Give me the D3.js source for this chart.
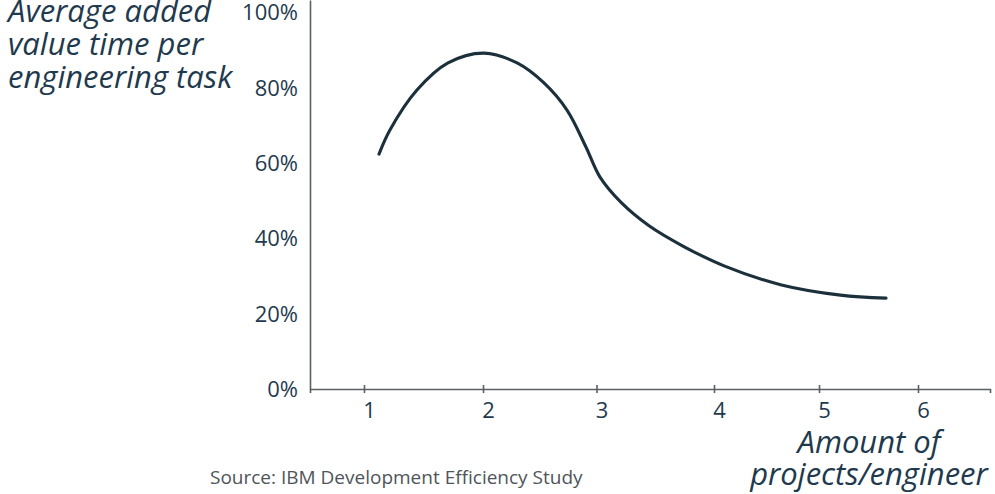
<!DOCTYPE html>
<html>
<head>
<meta charset="utf-8">
<script src="https://cdn.jsdelivr.net/npm/d3@7"></script>
<style>
  html, body { margin: 0; padding: 0; background: #ffffff; }
  svg { display: block; }
  text { font-family: "Open Sans", "Noto Sans", sans-serif; }
</style>
</head>
<body>
<svg id="chart" width="995" height="494"></svg>
<script>
// ---- data ----
const projectsPerEngineer = [1.126, 1.218, 1.445, 1.706, 2.009, 2.30, 2.537, 2.74, 2.907, 3.03, 3.209, 3.447, 3.731, 4.102, 4.643, 5.217, 5.677];
const addedValuePct      = [62.3,  68.7,  79.3,  86.5,  89.1,  86.5, 81.2,  74.0, 64.2,  56.2, 49.5,  43.3,  38.0,  32.6,  27.6,  24.9,  24.1];
const xTickValues = [1, 2, 3, 4, 5, 6];
const yTickValues = [0, 20, 40, 60, 80, 100];
const yTitleLines = ["Average added", "value time per", "engineering task"];
const xTitleLines = ["Amount of", "projects/engineer"];
const sourceText = "Source: IBM Development Efficiency Study";
const xDomain = [0.546, 1, 2, 3, 4, 5, 6, 6.727];   // hand-drawn axis: uneven tick spacing
const yDomain = [0, 103.2];

// ---- chart ----
const svg = d3.select("#chart");
const textColor = "#1f3a4e";
const axisColor = "#5a5f63";
const lineColor = "#1c303c";

const x = d3.scaleLinear().domain(xDomain).range([310, 364, 483, 596.5, 714, 819, 918, 990]);
const y = d3.scaleLinear().domain(yDomain).range([389, 0]);

// x axis
const gx = svg.append("g").attr("transform", `translate(0,${y(0)})`)
  .call(d3.axisBottom(x).tickValues(xTickValues).tickSizeOuter(0).tickSize(4).tickFormat(d3.format("d")));
gx.select(".domain").attr("stroke", axisColor).attr("stroke-width", 1.6);
gx.selectAll(".tick line").attr("stroke", axisColor).attr("stroke-width", 1.6).attr("y1", -4).attr("y2", 4);
gx.selectAll(".tick text").attr("fill", textColor).attr("font-size", 22)
  .attr("font-family", "'Open Sans', sans-serif").attr("dy", 0).attr("y", 29).attr("dx", 5);

// y axis
const gy = svg.append("g").attr("transform", `translate(${x(xDomain[0])},0)`)
  .call(d3.axisLeft(y).tickValues(yTickValues).tickSize(0).tickSizeOuter(0).tickPadding(12).tickFormat(d => d + "%"));
gy.select(".domain").attr("stroke", axisColor).attr("stroke-width", 1.6);
gy.selectAll(".tick text").attr("fill", textColor).attr("font-size", 22)
  .attr("font-family", "'Open Sans', sans-serif").attr("dy", "0.35em");

// curve
const pts = projectsPerEngineer.map((d, i) => [d, addedValuePct[i]]);
const line = d3.line().x(d => x(d[0])).y(d => y(d[1])).curve(d3.curveCatmullRom.alpha(0.5));
svg.append("path").datum(pts).attr("d", line)
  .attr("fill", "none").attr("stroke", lineColor).attr("stroke-width", 3.1).attr("stroke-linecap", "round");

// y title
svg.append("text").attr("fill", textColor).attr("font-size", 31).attr("font-style", "italic")
  .selectAll("tspan").data(yTitleLines).join("tspan")
  .attr("x", 8).attr("y", (d, i) => 22 + i * 33).text(d => d);

// x title
svg.append("text").attr("fill", textColor).attr("font-size", 31).attr("font-style", "italic")
  .attr("text-anchor", "middle")
  .selectAll("tspan").data(xTitleLines).join("tspan")
  .attr("x", 869).attr("y", (d, i) => 453 + i * 32).text(d => d);

// source
svg.append("text").attr("fill", "#4f5559").attr("font-size", 19)
  .attr("x", 210).attr("y", 484).text(sourceText);
</script>
</body>
</html>
